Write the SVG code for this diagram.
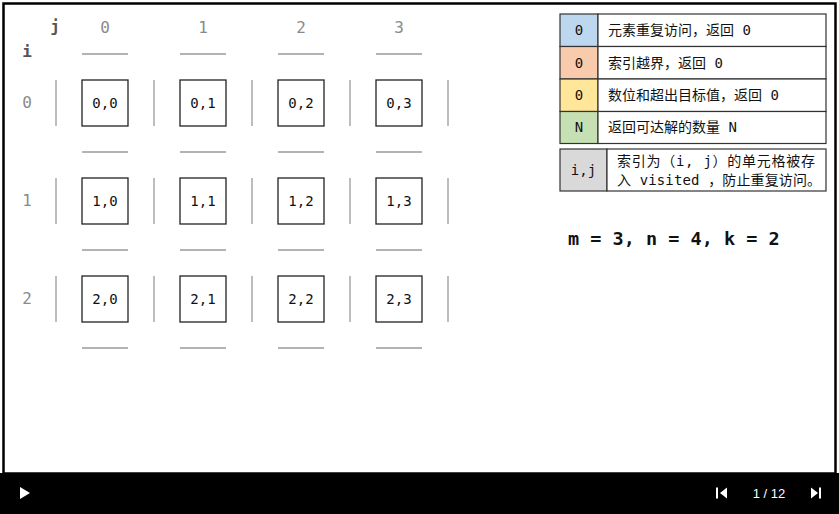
<svg xmlns="http://www.w3.org/2000/svg" width="839" height="514" viewBox="0 0 839 514">
<style>
.mono{font-family:"DejaVu Sans Mono","Liberation Mono","Noto Sans CJK SC",monospace}
.hdr{font-size:16px;fill:#8a8a8a;text-anchor:middle}
.cell rect{fill:#fff;stroke:#222;stroke-width:1.3}
.cell text{font-size:14px;fill:#111;text-anchor:middle}
.gl{stroke:#9a9a9a;stroke-width:1.3}
.lg rect{stroke:#333;stroke-width:1.2}
.lg text{font-size:14px;fill:#111}
.lk{text-anchor:middle}
.ctl{font-family:"Liberation Sans",Arial,sans-serif;font-size:13px;fill:#fff}
</style>
<rect x="0" y="0" width="839" height="514" fill="#fff"/>
<rect x="3.5" y="3.5" width="832" height="470" fill="#fff" stroke="#000" stroke-width="2.5"/>
<g id="axis-labels" class="mono">
<text x="55" y="32" font-size="16" font-weight="bold" fill="#555" text-anchor="middle">j</text>
<text x="27" y="57" font-size="16" font-weight="bold" fill="#555" text-anchor="middle">i</text>
<text class="hdr" x="105" y="33">0</text>
<text class="hdr" x="203" y="33">1</text>
<text class="hdr" x="301" y="33">2</text>
<text class="hdr" x="399" y="33">3</text>
<text class="hdr" x="27" y="108">0</text>
<text class="hdr" x="27" y="206">1</text>
<text class="hdr" x="27" y="304">2</text>
</g>
<g id="connectors">
<g class="gl">
<line x1="82" y1="54" x2="128" y2="54"/><line x1="180" y1="54" x2="226" y2="54"/><line x1="278" y1="54" x2="324" y2="54"/><line x1="376" y1="54" x2="422" y2="54"/>
<line x1="82" y1="152" x2="128" y2="152"/><line x1="180" y1="152" x2="226" y2="152"/><line x1="278" y1="152" x2="324" y2="152"/><line x1="376" y1="152" x2="422" y2="152"/>
<line x1="82" y1="250" x2="128" y2="250"/><line x1="180" y1="250" x2="226" y2="250"/><line x1="278" y1="250" x2="324" y2="250"/><line x1="376" y1="250" x2="422" y2="250"/>
<line x1="82" y1="348" x2="128" y2="348"/><line x1="180" y1="348" x2="226" y2="348"/><line x1="278" y1="348" x2="324" y2="348"/><line x1="376" y1="348" x2="422" y2="348"/>
<line x1="56" y1="80" x2="56" y2="126"/><line x1="154" y1="80" x2="154" y2="126"/><line x1="252" y1="80" x2="252" y2="126"/><line x1="350" y1="80" x2="350" y2="126"/><line x1="448" y1="80" x2="448" y2="126"/>
<line x1="56" y1="178" x2="56" y2="224"/><line x1="154" y1="178" x2="154" y2="224"/><line x1="252" y1="178" x2="252" y2="224"/><line x1="350" y1="178" x2="350" y2="224"/><line x1="448" y1="178" x2="448" y2="224"/>
<line x1="56" y1="276" x2="56" y2="322"/><line x1="154" y1="276" x2="154" y2="322"/><line x1="252" y1="276" x2="252" y2="322"/><line x1="350" y1="276" x2="350" y2="322"/><line x1="448" y1="276" x2="448" y2="322"/>
</g>
</g>
<g class="mono">
<g id="c00" class="cell"><rect x="82" y="80" width="46" height="46"/><text x="105" y="108">0,0</text></g>
<g id="c01" class="cell"><rect x="180" y="80" width="46" height="46"/><text x="203" y="108">0,1</text></g>
<g id="c02" class="cell"><rect x="278" y="80" width="46" height="46"/><text x="301" y="108">0,2</text></g>
<g id="c03" class="cell"><rect x="376" y="80" width="46" height="46"/><text x="399" y="108">0,3</text></g>
<g id="c10" class="cell"><rect x="82" y="178" width="46" height="46"/><text x="105" y="206">1,0</text></g>
<g id="c11" class="cell"><rect x="180" y="178" width="46" height="46"/><text x="203" y="206">1,1</text></g>
<g id="c12" class="cell"><rect x="278" y="178" width="46" height="46"/><text x="301" y="206">1,2</text></g>
<g id="c13" class="cell"><rect x="376" y="178" width="46" height="46"/><text x="399" y="206">1,3</text></g>
<g id="c20" class="cell"><rect x="82" y="276" width="46" height="46"/><text x="105" y="304">2,0</text></g>
<g id="c21" class="cell"><rect x="180" y="276" width="46" height="46"/><text x="203" y="304">2,1</text></g>
<g id="c22" class="cell"><rect x="278" y="276" width="46" height="46"/><text x="301" y="304">2,2</text></g>
<g id="c23" class="cell"><rect x="376" y="276" width="46" height="46"/><text x="399" y="304">2,3</text></g>
</g>
<g id="legend" class="lg mono">
<rect x="560" y="14" width="38" height="32.5" fill="#bdd7ee"/><rect x="598" y="14" width="228" height="32.5" fill="#fff"/>
<rect x="560" y="46.5" width="38" height="32.5" fill="#f8cbad"/><rect x="598" y="46.5" width="228" height="32.5" fill="#fff"/>
<rect x="560" y="79" width="38" height="32.5" fill="#ffe699"/><rect x="598" y="79" width="228" height="32.5" fill="#fff"/>
<rect x="560" y="111.5" width="38" height="32" fill="#c6e0b4"/><rect x="598" y="111.5" width="228" height="32" fill="#fff"/>
<text class="lk" x="579" y="35">0</text><text x="608" y="35">元素重复访问，返回 0</text>
<text class="lk" x="579" y="67.5">0</text><text x="608" y="67.5">索引越界，返回 0</text>
<text class="lk" x="579" y="100">0</text><text x="608" y="100">数位和超出目标值，返回 0</text>
<text class="lk" x="579" y="132">N</text><text x="608" y="132">返回可达解的数量 N</text>
<rect x="560" y="149" width="47" height="42" fill="#d9d9d9"/><rect x="607" y="149" width="219" height="42" fill="#fff"/>
<text class="lk" x="583.5" y="175">i,j</text>
<text x="617" y="166" textLength="198" lengthAdjust="spacing">索引为（i, j）的单元格被存</text>
<text x="617" y="185" textLength="204" lengthAdjust="spacing">入 visited ，防止重复访问。</text>
</g>
<text class="mono" x="568" y="245" font-size="18.5" font-weight="bold" fill="#111">m = 3, n = 4, k = 2</text>
<g id="controls">
<rect x="0" y="473" width="839" height="41" fill="#000"/>
<polygon points="20,487 30,493 20,499" fill="#fff"/>
<rect x="716" y="487.5" width="2" height="11" fill="#fff"/>
<polygon points="727,487.5 720,493 727,498.5" fill="#fff"/>
<text class="ctl" x="769" y="497.5" text-anchor="middle">1 / 12</text>
<polygon points="811,487.5 818,493 811,498.5" fill="#fff"/>
<rect x="819" y="487.5" width="2" height="11" fill="#fff"/>
</g>
</svg>
